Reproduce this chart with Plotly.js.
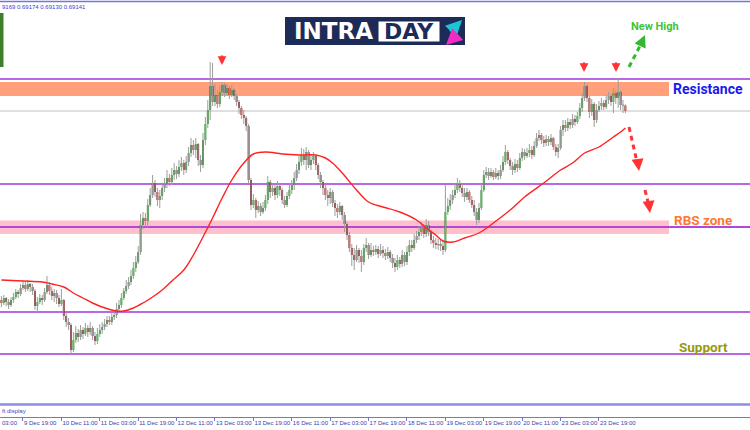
<!DOCTYPE html>
<html><head><meta charset="utf-8">
<script src="https://cdn.plot.ly/plotly-3.0.1.min.js"></script>
<style>html,body{margin:0;padding:0;background:#fff}#chart{width:750px;height:430px}</style>
</head><body><div id="chart"></div>
<script>
// ---- candle data (H1 bars, index 0 = 9 Dec 09:00) ----
const openP=[0.68196,0.68181,0.68206,0.68186,0.68171,0.68196,0.68211,0.68236,0.68226,0.68256,
0.68271,0.68251,0.68276,0.68261,0.68241,0.68166,0.68186,0.68206,0.68196,0.68236,
0.68271,0.68241,0.68216,0.68231,0.68206,0.68176,0.68196,0.68116,0.68086,0.68071,
0.67946,0.67996,0.68031,0.68011,0.68046,0.68026,0.68056,0.68036,0.68056,0.68016,
0.67991,0.68026,0.68046,0.68061,0.68076,0.68096,0.68086,0.68111,0.68121,0.68151,
0.68171,0.68206,0.68241,0.68266,0.68286,0.68316,0.68356,0.68386,0.68436,0.68571,
0.68606,0.68591,0.68671,0.68721,0.68781,0.68736,0.68696,0.68716,0.68756,0.68776,
0.68806,0.68786,0.68821,0.68846,0.68826,0.68861,0.68881,0.68846,0.68886,0.68931,
0.68971,0.68946,0.68976,0.68896,0.68871,0.68996,0.69076,0.69146,0.69266,0.69186,
0.69221,0.69176,0.69236,0.69271,0.69231,0.69256,0.69221,0.69246,0.69216,0.69186,
0.69156,0.69121,0.69106,0.69066,0.68796,0.68671,0.68696,0.68646,0.68666,0.68636,
0.68656,0.68696,0.68786,0.68736,0.68756,0.68721,0.68766,0.68746,0.68696,0.68671,
0.68716,0.68746,0.68771,0.68806,0.68846,0.68886,0.68921,0.68896,0.68936,0.68871,
0.68896,0.68916,0.68871,0.68821,0.68786,0.68756,0.68721,0.68706,0.68736,0.68681,
0.68656,0.68636,0.68666,0.68621,0.68576,0.68521,0.68456,0.68421,0.68396,0.68446,
0.68416,0.68386,0.68456,0.68471,0.68421,0.68446,0.68436,0.68451,0.68426,0.68446,
0.68431,0.68416,0.68436,0.68406,0.68381,0.68361,0.68396,0.68376,0.68421,0.68386,
0.68436,0.68471,0.68456,0.68496,0.68516,0.68536,0.68556,0.68526,0.68571,0.68536,
0.68496,0.68481,0.68471,0.68476,0.68466,0.68446,0.68636,0.68666,0.68696,0.68721,
0.68746,0.68776,0.68756,0.68731,0.68711,0.68736,0.68696,0.68671,0.68636,0.68596,
0.68656,0.68746,0.68821,0.68836,0.68816,0.68836,0.68811,0.68831,0.68816,0.68846,
0.68886,0.68936,0.68896,0.68866,0.68846,0.68876,0.68856,0.68906,0.68936,0.68916,
0.68931,0.68946,0.68921,0.68966,0.69006,0.69021,0.68996,0.68981,0.69001,0.68986,
0.69006,0.68961,0.68936,0.68956,0.69046,0.69071,0.69056,0.69086,0.69071,0.69101,
0.69086,0.69116,0.69156,0.69206,0.69266,0.69206,0.69136,0.69176,0.69096,0.69146,
0.69166,0.69181,0.69161,0.69196,0.69216,0.69186,0.69231,0.69206,0.69236,0.69171,
0.69169];
const highP=[0.68216,0.68221,0.68211,0.68201,0.68211,0.68231,0.68251,0.68246,0.68276,0.68291,
0.68286,0.68296,0.68281,0.68276,0.68251,0.68211,0.68226,0.68221,0.68256,0.68316,
0.68286,0.68261,0.68251,0.68246,0.68221,0.68251,0.68201,0.68131,0.68106,0.68081,
0.68036,0.68066,0.68051,0.68071,0.68061,0.68081,0.68071,0.68086,0.68066,0.68036,
0.68056,0.68076,0.68086,0.68101,0.68116,0.68116,0.68131,0.68146,0.68181,0.68196,
0.68231,0.68256,0.68296,0.68311,0.68346,0.68386,0.68416,0.68466,0.68626,0.68636,
0.68631,0.68701,0.68756,0.68821,0.68796,0.68756,0.68746,0.68781,0.68806,0.68846,
0.68826,0.68856,0.68881,0.68866,0.68896,0.68911,0.68896,0.68916,0.68961,0.69006,
0.68996,0.69006,0.68981,0.68921,0.69031,0.69111,0.69196,0.69386,0.69381,0.69276,
0.69246,0.69266,0.69286,0.69281,0.69276,0.69266,0.69271,0.69256,0.69226,0.69196,
0.69166,0.69146,0.69116,0.69076,0.68806,0.68726,0.68706,0.68691,0.68681,0.68686,
0.68721,0.68816,0.68796,0.68781,0.68771,0.68791,0.68776,0.68756,0.68716,0.68736,
0.68781,0.68796,0.68836,0.68876,0.68916,0.68956,0.68951,0.68961,0.68946,0.68921,
0.68936,0.68921,0.68881,0.68836,0.68796,0.68771,0.68746,0.68756,0.68746,0.68696,
0.68676,0.68686,0.68671,0.68636,0.68586,0.68536,0.68476,0.68456,0.68471,0.68456,
0.68446,0.68476,0.68506,0.68481,0.68481,0.68466,0.68471,0.68466,0.68476,0.68466,
0.68451,0.68461,0.68446,0.68426,0.68406,0.68421,0.68411,0.68446,0.68436,0.68466,
0.68496,0.68496,0.68526,0.68541,0.68566,0.68586,0.68576,0.68601,0.68591,0.68546,
0.68516,0.68506,0.68501,0.68496,0.68491,0.68771,0.68706,0.68726,0.68746,0.68781,
0.68806,0.68796,0.68776,0.68756,0.68756,0.68746,0.68716,0.68696,0.68656,0.68681,
0.68776,0.68846,0.68861,0.68856,0.68856,0.68846,0.68856,0.68846,0.68871,0.68916,
0.68971,0.68946,0.68906,0.68886,0.68901,0.68896,0.68931,0.68956,0.68951,0.68956,
0.68976,0.68966,0.68991,0.69031,0.69046,0.69031,0.69016,0.69021,0.69016,0.69026,
0.69011,0.68976,0.68976,0.69066,0.69096,0.69096,0.69106,0.69101,0.69126,0.69121,
0.69136,0.69181,0.69231,0.69286,0.69276,0.69216,0.69201,0.69186,0.69176,0.69191,
0.69206,0.69196,0.69221,0.69236,0.69226,0.69256,0.69246,0.69306,0.69246,0.69196,
0.69174];
const lowP=[0.68161,0.68171,0.68166,0.68151,0.68161,0.68181,0.68201,0.68206,0.68216,0.68246,
0.68236,0.68241,0.68236,0.68221,0.68146,0.68131,0.68176,0.68171,0.68186,0.68226,
0.68221,0.68196,0.68186,0.68176,0.68161,0.68166,0.68096,0.68061,0.68046,0.67926,
0.67936,0.67981,0.67986,0.67996,0.68001,0.68016,0.68011,0.68021,0.67996,0.67971,
0.67976,0.68011,0.68026,0.68046,0.68061,0.68071,0.68071,0.68096,0.68106,0.68136,
0.68156,0.68196,0.68226,0.68251,0.68271,0.68301,0.68336,0.68376,0.68421,0.68551,
0.68561,0.68556,0.68661,0.68706,0.68711,0.68666,0.68656,0.68696,0.68736,0.68756,
0.68766,0.68771,0.68796,0.68801,0.68811,0.68841,0.68821,0.68831,0.68866,0.68911,
0.68921,0.68906,0.68866,0.68836,0.68856,0.68971,0.69056,0.69096,0.69166,0.69166,
0.69156,0.69161,0.69216,0.69211,0.69216,0.69201,0.69211,0.69196,0.69166,0.69126,
0.69101,0.69076,0.69041,0.68776,0.68646,0.68656,0.68606,0.68631,0.68616,0.68626,
0.68641,0.68676,0.68706,0.68716,0.68696,0.68706,0.68716,0.68676,0.68656,0.68661,
0.68701,0.68726,0.68746,0.68791,0.68826,0.68866,0.68871,0.68846,0.68856,0.68846,
0.68876,0.68846,0.68801,0.68756,0.68721,0.68696,0.68666,0.68676,0.68661,0.68616,
0.68606,0.68621,0.68596,0.68536,0.68496,0.68436,0.68366,0.68346,0.68386,0.68381,
0.68336,0.68371,0.68436,0.68401,0.68411,0.68416,0.68421,0.68406,0.68416,0.68406,
0.68396,0.68401,0.68386,0.68356,0.68336,0.68346,0.68356,0.68361,0.68366,0.68371,
0.68416,0.68436,0.68446,0.68481,0.68496,0.68516,0.68506,0.68511,0.68516,0.68476,
0.68456,0.68451,0.68446,0.68441,0.68421,0.68436,0.68621,0.68646,0.68676,0.68706,
0.68731,0.68736,0.68711,0.68686,0.68696,0.68681,0.68656,0.68616,0.68571,0.68581,
0.68646,0.68736,0.68806,0.68796,0.68806,0.68796,0.68801,0.68796,0.68801,0.68836,
0.68871,0.68876,0.68846,0.68821,0.68831,0.68836,0.68846,0.68891,0.68896,0.68906,
0.68911,0.68901,0.68911,0.68956,0.68991,0.68976,0.68961,0.68966,0.68966,0.68971,
0.68946,0.68916,0.68906,0.68946,0.69016,0.69036,0.69041,0.69051,0.69056,0.69066,
0.69076,0.69101,0.69136,0.69191,0.69186,0.69106,0.69116,0.69061,0.69081,0.69136,
0.69146,0.69146,0.69151,0.69176,0.69166,0.69131,0.69176,0.69156,0.69146,0.69131,
0.69130];
const closeP=[0.68181,0.68206,0.68186,0.68171,0.68196,0.68211,0.68236,0.68226,0.68256,0.68271,
0.68251,0.68276,0.68261,0.68241,0.68166,0.68186,0.68206,0.68196,0.68236,0.68271,
0.68241,0.68216,0.68231,0.68206,0.68176,0.68196,0.68116,0.68086,0.68071,0.67946,
0.67996,0.68031,0.68011,0.68046,0.68026,0.68056,0.68036,0.68056,0.68016,0.67991,
0.68026,0.68046,0.68061,0.68076,0.68096,0.68086,0.68111,0.68121,0.68151,0.68171,
0.68206,0.68241,0.68266,0.68286,0.68316,0.68356,0.68386,0.68436,0.68571,0.68606,
0.68591,0.68671,0.68721,0.68781,0.68736,0.68696,0.68716,0.68756,0.68776,0.68806,
0.68786,0.68821,0.68846,0.68826,0.68861,0.68881,0.68846,0.68886,0.68931,0.68971,
0.68946,0.68976,0.68896,0.68871,0.68996,0.69076,0.69146,0.69266,0.69186,0.69221,
0.69176,0.69236,0.69271,0.69231,0.69256,0.69221,0.69246,0.69216,0.69186,0.69156,
0.69121,0.69106,0.69066,0.68796,0.68671,0.68696,0.68646,0.68666,0.68636,0.68656,
0.68696,0.68786,0.68736,0.68756,0.68721,0.68766,0.68746,0.68696,0.68671,0.68716,
0.68746,0.68771,0.68806,0.68846,0.68886,0.68921,0.68896,0.68936,0.68871,0.68896,
0.68916,0.68871,0.68821,0.68786,0.68756,0.68721,0.68706,0.68736,0.68681,0.68656,
0.68636,0.68666,0.68621,0.68576,0.68521,0.68456,0.68421,0.68396,0.68446,0.68416,
0.68386,0.68456,0.68471,0.68421,0.68446,0.68436,0.68451,0.68426,0.68446,0.68431,
0.68416,0.68436,0.68406,0.68381,0.68361,0.68396,0.68376,0.68421,0.68386,0.68436,
0.68471,0.68456,0.68496,0.68516,0.68536,0.68556,0.68526,0.68571,0.68536,0.68496,
0.68481,0.68471,0.68476,0.68466,0.68446,0.68636,0.68666,0.68696,0.68721,0.68746,
0.68776,0.68756,0.68731,0.68711,0.68736,0.68696,0.68671,0.68636,0.68596,0.68656,
0.68746,0.68821,0.68836,0.68816,0.68836,0.68811,0.68831,0.68816,0.68846,0.68886,
0.68936,0.68896,0.68866,0.68846,0.68876,0.68856,0.68906,0.68936,0.68916,0.68931,
0.68946,0.68921,0.68966,0.69006,0.69021,0.68996,0.68981,0.69001,0.68986,0.69006,
0.68961,0.68936,0.68956,0.69046,0.69071,0.69056,0.69086,0.69071,0.69101,0.69086,
0.69116,0.69156,0.69206,0.69266,0.69206,0.69136,0.69176,0.69096,0.69146,0.69166,
0.69181,0.69161,0.69196,0.69216,0.69186,0.69231,0.69206,0.69236,0.69171,0.69169,
0.69141];

// ---- moving average ----
const maIdx=[0,9,17,21,26,30,34,38,42,48,51,55,59,63,67,71,76,80,84,88,92,96,101,105,110,117,124,131,135,138,142,148,153,159,166,173,177,181,184,188,193,199,205,212,218,226,233,238,243,249,255,258,260];
const maVal=[0.68296,0.68291,0.68286,0.68276,0.68261,0.68231,0.68206,0.68181,0.68161,0.68141,0.68141,0.68156,0.68181,0.68211,0.68246,0.68291,0.68346,0.68421,0.68511,0.68606,0.68706,0.68796,0.68881,0.68926,0.68936,0.68926,0.68921,0.68921,0.68906,0.68881,0.68831,0.68746,0.68686,0.68661,0.68636,0.68596,0.68556,0.68521,0.68491,0.68486,0.68506,0.68531,0.68581,0.68646,0.68711,0.68781,0.68846,0.68881,0.68931,0.68961,0.69011,0.69036,0.69056];

// ---- time axis ----
const tickIdx=[9,25,41,57,73,89,105,121,137,153,169,185,201,217,233,249];
const tickText=["9 Dec 19:00","10 Dec 11:00","11 Dec 03:00","11 Dec 19:00","12 Dec 11:00","13 Dec 03:00","13 Dec 19:00","16 Dec 11:00","17 Dec 03:00","17 Dec 19:00","18 Dec 11:00","19 Dec 03:00","19 Dec 19:00","20 Dec 11:00","23 Dec 03:00","23 Dec 19:00"];

// ---- drawn levels ----
const resistanceLine=0.69301;
const resistanceZone=[0.69216,0.69286];
const midLine=0.68776;
const rbsZone=[0.68526,0.68594];
const rbsLine=0.68561;
const lowLine=0.68136;
const supportLine=0.67926;

const N=closeP.length;
const idx=closeP.map((_,i)=>i);
const wx=[],wy=[],base=[],len=[],col=[];
for(let i=0;i<N;i++){
  wx.push(i,i,null); wy.push(lowP[i],highP[i],null);
  const lo=Math.min(openP[i],closeP[i]), hi=Math.max(openP[i],closeP[i]);
  base.push(lo); len.push(Math.max(hi-lo,0.00003));
  col.push(closeP[i]>=openP[i]?'#1a8a1a':'#8a1010');
}
const lastClose=closeP[N-1];

const PX=x=>x/750, PY=y=>(417-y)/415;
const purple='#a334dc';
const hline=(y,w,c)=>({type:'line',xref:'paper',yref:'y',x0:0,x1:1,y0:y,y1:y,line:{color:c,width:w},layer:'below'});
const shapes=[
  {type:'rect',xref:'paper',yref:'y',x0:0,x1:PX(669),y0:resistanceZone[0],y1:resistanceZone[1],fillcolor:'#ffa07a',line:{width:0},layer:'below'},
  {type:'rect',xref:'paper',yref:'y',x0:0,x1:PX(669),y0:rbsZone[0],y1:rbsZone[1],fillcolor:'#ffc0cb',line:{width:0},layer:'below'},
  hline(resistanceLine,1.5,purple),
  hline(lastClose,1,'#c0c0c0'),
  hline(midLine,1.5,purple),
  hline(rbsLine,2.2,'#b048d8'),
  hline(lowLine,1.5,purple),
  hline(supportLine,1.5,purple),
  {type:'line',xref:'paper',yref:'paper',x0:0,x1:1,y0:PY(1.5),y1:PY(1.5),line:{color:'#7474dc',width:1.5}},
  {type:'line',xref:'paper',yref:'paper',x0:0,x1:1,y0:PY(404.5),y1:PY(404.5),line:{color:'#8c8ce6',width:2.5}},
  {type:'rect',xref:'paper',yref:'paper',x0:0,x1:PX(3.5),y0:PY(67),y1:PY(13),fillcolor:'#3f7f2a',line:{width:0}},
  // logo
  {type:'rect',xref:'paper',yref:'paper',x0:PX(285),x1:PX(465),y0:PY(45),y1:PY(17),fillcolor:'#1c2b58',line:{width:0}},
  {type:'rect',xref:'paper',yref:'paper',x0:PX(378),x1:PX(440),y0:PY(42),y1:PY(21),fillcolor:'#ffffff',line:{color:'#1c2b58',width:1}},
  // dashed projections
  {type:'line',xref:'paper',yref:'paper',x0:PX(629),y0:PY(67),x1:PX(642),y1:PY(42),line:{color:'#33b833',width:3,dash:'5px,4px'}},
  {type:'line',xref:'paper',yref:'paper',x0:PX(629),y0:PY(127),x1:PX(637),y1:PY(162),line:{color:'#ff3333',width:3,dash:'5px,4px'}},
  {type:'line',xref:'paper',yref:'paper',x0:PX(645),y0:PY(190),x1:PX(648),y1:PY(202),line:{color:'#ff3333',width:3,dash:'5px,4px'}}
];
const arrow=(xh,yh,ax,ay,c,w,s)=>({xref:'paper',yref:'paper',x:PX(xh),y:PY(yh),ax:ax,ay:ay,text:'',showarrow:true,arrowhead:2,arrowsize:s,arrowwidth:w,arrowcolor:c,standoff:0});
const txt=(t,x,y,size,c,anchor,fam)=>({xref:'paper',yref:'paper',x:PX(x),y:PY(y),text:t,showarrow:false,xanchor:anchor,yanchor:'middle',font:{family:fam||'Roboto, sans-serif',size:size,color:c}});
const annotations=[
  arrow(222,65,0,-11,'#ff3333',2.5,0.7),
  arrow(584,72,0,-11,'#ff3333',2.5,0.7),
  arrow(616,72,0,-11,'#ff3333',2.5,0.7),
  arrow(645,35,-4,9,'#33b833',3,0.8),
  arrow(639,171,-1,-8,'#ff3333',3,0.8),
  arrow(650,213,-1,-8,'#ff3333',3,0.8),
  arrow(462,20,-13,13,'#19c6d4',4,0.8),
  arrow(446,45,13,-12,'#f22ac6',4,0.8),
  txt('<b>INTRA</b>',333,31,23,'#ffffff','center','DejaVu Sans'),
  txt('<b>DAY</b>',409,31.5,22,'#1c2b58','center','DejaVu Sans'),
  txt('<b>New High</b>',629,26,11,'#3cc43c','left'),
  txt('<b>Resistance</b>',671,89,14,'#1a1aee','left'),
  txt('<b>RBS zone</b>',672,220,13.5,'#ff7733','left'),
  txt('<b>Support</b>',677,347,13.5,'#999910','left'),
  txt('9169 0.69174 0.69130 0.69141',0,7.5,6,'#3c3cd0','left','Liberation Sans, Arial, sans-serif'),
  txt('ft display',0,411,6,'#4646c0','left','Liberation Sans, Arial, sans-serif'),
  txt('03:00',0,423,6,'#3c3ca8','left','Liberation Sans, Arial, sans-serif')
];

const traces=[
  {type:'scatter',mode:'lines',x:wx,y:wy,line:{color:'#9c9c9c',width:1},hoverinfo:'skip',connectgaps:false},
  {type:'bar',x:idx,y:len,base:base,width:0.78,marker:{color:col,line:{width:0}},hoverinfo:'skip'},
  {type:'scatter',mode:'lines',x:maIdx,y:maVal,line:{color:'#ff2222',width:1.4,shape:'spline',smoothing:1},hoverinfo:'skip'}
];
const layout={
  width:750,height:430,margin:{l:0,r:0,t:2,b:13},
  paper_bgcolor:'#ffffff',plot_bgcolor:'#ffffff',showlegend:false,
  xaxis:{range:[-0.58,311.92],tickmode:'array',tickvals:tickIdx,ticktext:tickText,ticks:'outside',ticklen:3,tickcolor:'#7474dc',
    showline:true,linecolor:'#7474dc',linewidth:1,showgrid:false,zeroline:false,ticklabelposition:'outside right',tickangle:0,automargin:false,
    tickfont:{family:'Liberation Sans, Arial, sans-serif',size:6,color:'#3c3ca8'},fixedrange:true},
  yaxis:{range:[0.67611,0.69686],visible:false,showgrid:false,zeroline:false,fixedrange:true},
  shapes:shapes,annotations:annotations
};
Plotly.newPlot('chart',traces,layout,{staticPlot:true,displayModeBar:false});
</script></body></html>
